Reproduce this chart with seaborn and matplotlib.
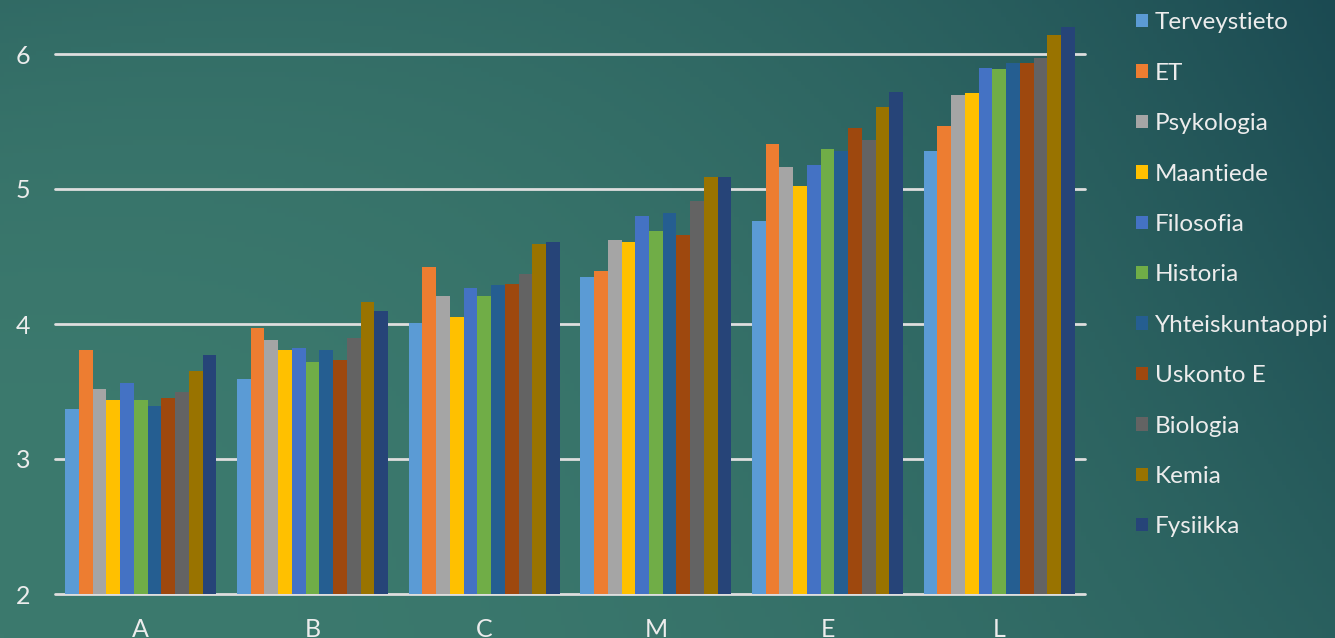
"""Grouped bar chart: subject averages per grade group."""

import matplotlib
matplotlib.use("Agg")
import numpy as np
import pandas as pd
import matplotlib.pyplot as plt
import matplotlib.colors as mcolors
import seaborn as sns

groups = ["A", "B", "C", "M", "E", "L"]
subjects = ["Terveystieto", "ET", "Psykologia", "Maantiede", "Filosofia", "Historia",
            "Yhteiskuntaoppi", "Uskonto E", "Biologia", "Kemia", "Fysiikka"]

terveystieto = [3.37, 3.59, 4.01, 4.35, 4.76, 5.28]
et = [3.81, 3.97, 4.42, 4.39, 5.33, 5.47]
psykologia = [3.52, 3.88, 4.21, 4.62, 5.16, 5.70]
maantiede = [3.44, 3.81, 4.05, 4.61, 5.02, 5.71]
filosofia = [3.56, 3.82, 4.27, 4.80, 5.18, 5.90]
historia = [3.44, 3.72, 4.21, 4.69, 5.30, 5.89]
yhteiskuntaoppi = [3.39, 3.81, 4.29, 4.82, 5.28, 5.93]
uskonto_e = [3.45, 3.73, 4.30, 4.66, 5.45, 5.93]
biologia = [3.50, 3.90, 4.37, 4.91, 5.36, 5.97]
kemia = [3.65, 4.16, 4.59, 5.09, 5.61, 6.14]
fysiikka = [3.77, 4.10, 4.61, 5.09, 5.72, 6.20]

series = [terveystieto, et, psykologia, maantiede, filosofia, historia,
          yhteiskuntaoppi, uskonto_e, biologia, kemia, fysiikka]

colors = ["#5B9BD5", "#ED7D31", "#A5A5A5", "#FFC000", "#4472C4", "#70AD47",
          "#255E91", "#9E480E", "#636363", "#997300", "#264478"]

yticks = [2, 3, 4, 5, 6]

df = pd.DataFrame(
    [(g, s, v) for s, vals in zip(subjects, series) for g, v in zip(groups, vals)],
    columns=["group", "subject", "value"],
)

sns.set_theme(style="white")
plt.rcParams["font.family"] = ["Lato", "DejaVu Sans"]
text_color = "#ececec"

fig = plt.figure(figsize=(13.35, 6.38), dpi=100)

# background: light teal bottom-left fading to dark blue-green top-right
light = np.array(mcolors.to_rgb("#3c7a6e"))
dark = np.array(mcolors.to_rgb("#1b4a52"))
u = np.linspace(0, 1, 300)[None, :]
v = np.linspace(0, 1, 150)[:, None]
w = u ** 2.2 * (1 - 0.45 * v) + 0.33 * (1 - u) * (1 - v) ** 3
w = np.clip(w, 0, 1)[:, :, None]
grad = (1 - w) * light + w * dark
bg = fig.add_axes([0, 0, 1, 1], zorder=-1)
bg.imshow(grad, aspect="auto", extent=[0, 1, 0, 1])
bg.axis("off")

ax = fig.add_axes([55 / 1335, 44 / 638, 1030 / 1335, 594 / 638])
ax.set_facecolor("none")

sns.barplot(data=df, x="group", y="value", hue="subject", hue_order=subjects,
            palette=colors, saturation=1, width=0.88, linewidth=0,
            edgecolor="none", ax=ax, zorder=2)

for t in yticks:
    ax.axhline(t, color="#dedede", linewidth=2, zorder=1, clip_on=False)

ax.set_ylim(2, 6.4)
ax.set_xlim(-0.5, len(groups) - 0.5)
ax.set_yticks(yticks)
ax.set_xlabel("")
ax.set_ylabel("")
for spine in ax.spines.values():
    spine.set_visible(False)
ax.tick_params(axis="y", length=0, pad=18, labelsize=18, labelcolor=text_color)
ax.tick_params(axis="x", length=0, pad=17, labelsize=18, labelcolor=text_color)

handles, labels = ax.get_legend_handles_labels()
for h in handles:
    h.set_edgecolor("none")
ax.legend(handles, labels, loc="upper left", bbox_to_anchor=(1129 / 1335, 1.0 - 5 / 638),
          bbox_transform=fig.transFigure, frameon=False, fontsize=17.5,
          labelcolor=text_color, handlelength=0.47, handleheight=0.47,
          handletextpad=0.3, labelspacing=1.21, borderpad=0.3, borderaxespad=0)

plt.savefig("out.png", dpi=100)
plt.close()
